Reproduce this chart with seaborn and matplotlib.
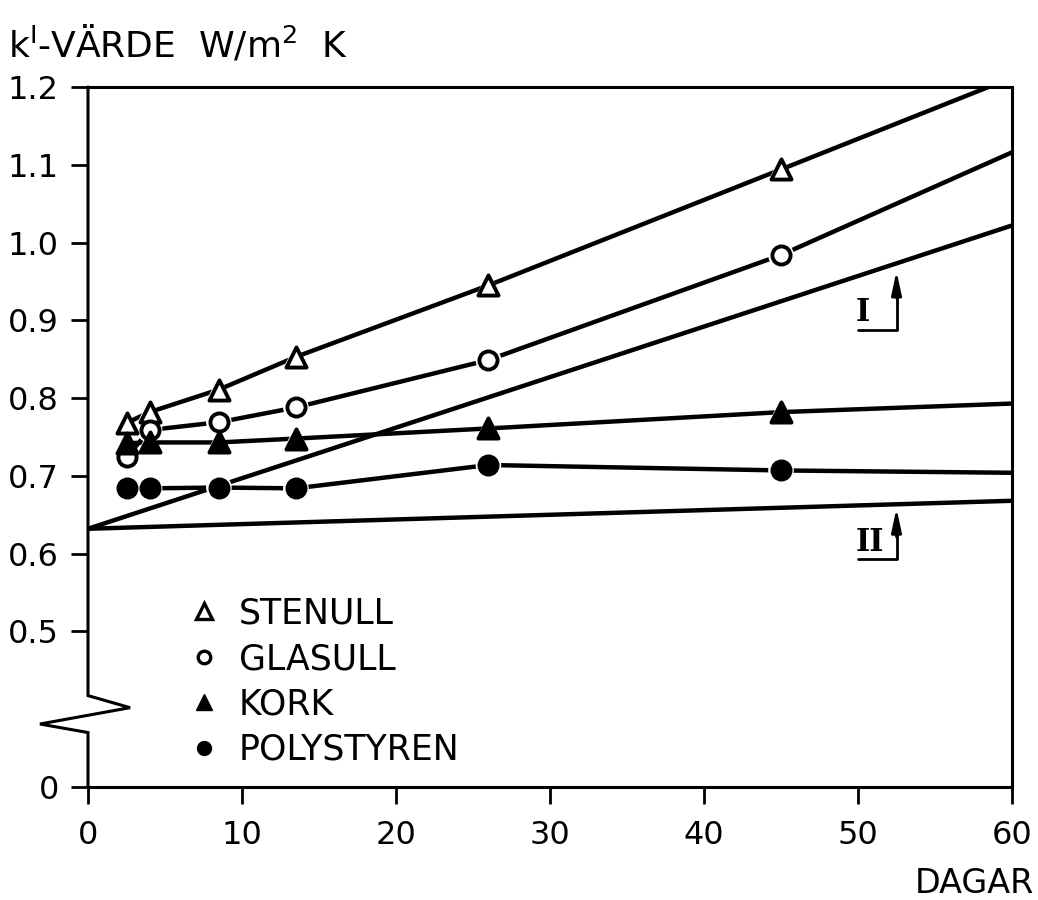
import matplotlib
matplotlib.use("Agg")
import matplotlib.pyplot as plt
import seaborn as sns
import pandas as pd
from matplotlib.lines import Line2D

# ---- data ----
days = [2.5, 4.0, 8.5, 13.5, 26.0, 45.0]
stenull = [0.768, 0.782, 0.811, 0.853, 0.945, 1.094]
glasull = [0.724, 0.759, 0.769, 0.788, 0.849, 0.984]
kork = [0.742, 0.743, 0.743, 0.748, 0.761, 0.782]
polystyren = [0.685, 0.684, 0.685, 0.684, 0.714, 0.707]
# trend continuation at x = 60
end_x = 60
stenull_end = 1.212
glasull_end = 1.116
kork_end = 0.793
polystyren_end = 0.704
# reference lines I and II
ref_x = [0, 60]
line_I = [0.632, 1.022]
line_II = [0.632, 0.668]

labels = ["STENULL", "GLASULL", "KORK", "POLYSTYREN"]
yticks = [0.5, 0.6, 0.7, 0.8, 0.9, 1.0, 1.1, 1.2]
xticks = [0, 10, 20, 30, 40, 50, 60]
y_zero_pos = 0.3  # broken axis: "0" is drawn here

sns.set_style("white")
plt.rcParams["font.family"] = ["DejaVu Sans"]
plt.rcParams["text.color"] = "black"
plt.rcParams["axes.labelcolor"] = "black"

fig = plt.figure(figsize=(10.38, 9.0), dpi=100)
ax = fig.add_axes([88 / 1038, 1 - 787 / 900, 924 / 1038, 700 / 900])

LW = 3.2
series = [
    (stenull, stenull_end, "^", "white"),
    (glasull, glasull_end, "o", "white"),
    (kork, kork_end, "^", "black"),
    (polystyren, polystyren_end, "o", "black"),
]

for vals, endv, m, fc in series:
    df = pd.DataFrame({"x": days + [end_x], "y": vals + [endv]})
    sns.lineplot(data=df, x="x", y="y", ax=ax, color="black", lw=LW, legend=False,
                 zorder=2)

for xs, ys in [(ref_x, line_I), (ref_x, line_II)]:
    sns.lineplot(x=xs, y=ys, ax=ax, color="black", lw=LW, legend=False, zorder=2)

for vals, endv, m, fc in series:
    ms = 210 if m == "^" else 170
    # white halo to create gaps in lines around markers
    ax.scatter(days, vals, marker=m, s=ms * 2.0, color="white", edgecolor="none", zorder=3)
    ax.scatter(days, vals, marker=m, s=ms, facecolor=fc, edgecolor="black",
               linewidth=2.8, zorder=4)

ax.set_xlim(0, 60)
ax.set_ylim(y_zero_pos, 1.2)
ax.set_xticks(xticks)
ax.set_xticklabels([str(t) for t in xticks])
ax.set_yticks([y_zero_pos] + yticks)
ax.set_yticklabels(["0"] + [f"{t:.1f}" for t in yticks])
ax.tick_params(axis="both", direction="out", length=12, width=2.0, labelsize=23,
               colors="black")
ax.tick_params(axis="x", pad=12, bottom=True)
ax.tick_params(axis="y", pad=9, left=True)
ax.set_xlabel("")
ax.set_ylabel("")

for s in ["top", "right", "bottom"]:
    ax.spines[s].set_visible(True)
    ax.spines[s].set_linewidth(2.2)
    ax.spines[s].set_color("black")
ax.spines["left"].set_visible(False)

# broken left axis
bx = [0, 0, 2.73, -3.12, 0, 0]
by = [1.2, 0.4175, 0.402, 0.381, 0.370, y_zero_pos]
ax.plot(bx, by, color="black", lw=2.2, clip_on=False, zorder=5, solid_joinstyle="miter")

# annotations I and II with brackets
serif = ["DejaVu Serif"]
ax.plot([50.0, 52.5, 52.5], [0.887, 0.887, 0.935], color="black", lw=2.0, zorder=5)
ax.annotate("", xy=(52.5, 0.967), xytext=(52.5, 0.925),
            arrowprops=dict(arrowstyle="-|>,head_length=1.4,head_width=0.3",
                            color="black", lw=2.0), zorder=5)
ax.text(50.3, 0.910, "I", fontsize=22, family=serif, fontweight="bold",
        ha="center", va="center")
ax.plot([50.0, 52.5, 52.5], [0.593, 0.593, 0.625], color="black", lw=2.0, zorder=5)
ax.annotate("", xy=(52.5, 0.662), xytext=(52.5, 0.618),
            arrowprops=dict(arrowstyle="-|>,head_length=1.4,head_width=0.3",
                            color="black", lw=2.0), zorder=5)
ax.text(50.8, 0.614, "II", fontsize=22, family=serif, fontweight="bold",
        ha="center", va="center")

# legend
handles = [
    Line2D([], [], ls="none", marker="^", ms=11, mfc="white", mec="black", mew=2.4),
    Line2D([], [], ls="none", marker="o", ms=9, mfc="white", mec="black", mew=2.4),
    Line2D([], [], ls="none", marker="^", ms=11, mfc="black", mec="black"),
    Line2D([], [], ls="none", marker="o", ms=10, mfc="black", mec="black"),
]
leg = ax.legend(handles, labels, loc="upper left", bbox_to_anchor=(0.1066, 0.272),
                frameon=False, fontsize=25, handlelength=1.0, handletextpad=0.5,
                labelspacing=0.33, borderpad=0, borderaxespad=0)
for t in leg.get_texts():
    t.set_color("black")

fig.text(8 / 1038, 1 - 57 / 900, r"k$^{\mathsf{I}}$-VÄRDE  W/m$^{\mathsf{2}}$  K",
         fontsize=26, ha="left", va="baseline")
fig.text(1034 / 1038, 1 - 893 / 900, "DAGAR", fontsize=24, ha="right", va="baseline")

fig.savefig("out.png", dpi=100, facecolor="white")
